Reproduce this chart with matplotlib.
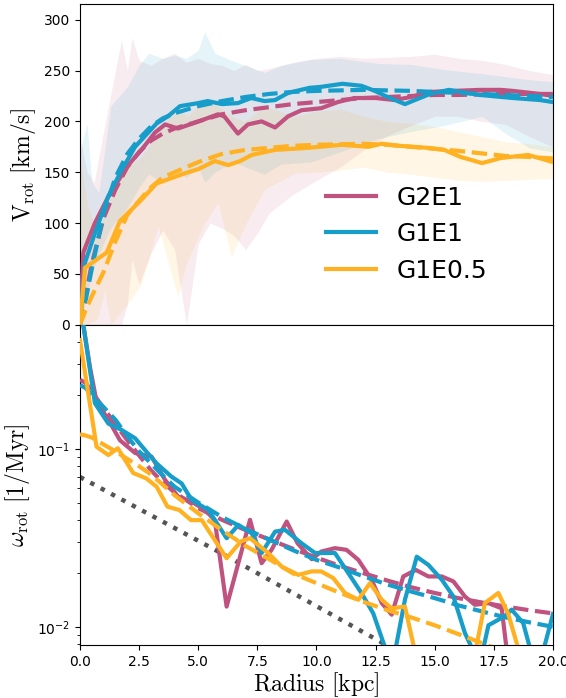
import numpy as np
import matplotlib.pyplot as plt

plt.rcParams['mathtext.fontset'] = 'cm'

names = ['G2E1', 'G1E1', 'G1E0.5']
colors = ['#c0527f', '#179dc9', '#ffb121']

# ---- rotation curves (top panel) ----
r_v_g2e1 = [0, 0.14, 0.63, 1.2, 2.0, 2.6, 3.17, 3.6, 4.14, 4.9, 5.84, 6.1, 6.68, 7.1, 7.68, 8.25, 8.8, 9.37,
            10.2, 10.9, 11.6, 12.5, 13.3, 14.0, 14.8, 15.8, 16.9, 17.8, 18.3, 19.45, 20.0]
v_g2e1 = [0, 71, 100, 126, 156, 172, 189, 197, 193, 199, 207, 205, 188, 197, 200, 194, 205, 211,
          213, 219, 223, 223, 221, 224, 229, 230, 231, 231, 230, 227, 225]

r_v_g1e1 = [0, 0.21, 0.63, 1.19, 1.76, 2.33, 3.24, 3.72, 4.23, 5.0, 5.4, 6.0, 6.68, 7.24, 7.81, 8.25, 8.8,
            9.7, 10.2, 11.1, 11.9, 12.47, 13.0, 13.74, 14.8, 15.6, 16.9, 18.3, 19.45, 20.0]
v_g1e1 = [0, 61, 90, 126, 152, 175, 198, 205, 215, 218, 220, 217, 218, 223, 220, 221, 228,
          233, 234, 237, 235, 230, 224, 217, 227, 231, 226, 223, 221, 219]

r_v_g1e05 = [0, 0.21, 1.13, 1.69, 2.6, 3.24, 3.72, 4.44, 5.0, 5.7, 6.27, 6.77, 7.26, 8.25, 9.65, 11.07,
             12.2, 12.75, 13.5, 14.7, 15.4, 16.1, 17.0, 17.8, 18.95, 20.0]
v_g1e05 = [0, 56, 71, 102, 123, 139, 143, 149, 153, 161, 157, 161, 167, 172, 174, 177,
           175, 178, 176, 174, 172, 165, 159, 164, 167, 160]

# fits (dashed)
r_fit = [0, 0.25, 0.5, 1, 1.5, 2, 2.5, 3, 3.5, 4, 5, 6, 7, 8, 9, 10, 11, 12, 13, 14, 15, 16, 17, 18, 19, 20]
vfit_g2e1 = [0, 30, 60, 105, 133, 155, 170, 181, 188, 193, 200, 207, 211, 214, 217, 219, 221, 223, 224, 225,
             226, 226, 226.5, 227, 227, 227]
vfit_g1e1 = [0, 25, 55, 110, 145, 168, 183, 195, 203, 208, 215, 220, 224, 227, 229, 230, 230.5, 231, 230.5,
             230, 229, 228, 227, 226, 225, 224]
vfit_g1e05 = [0, 15, 28, 52, 82, 108, 122, 135, 145, 150, 160, 168, 172, 174, 176, 177, 177.5, 178, 177,
              175, 173, 171, 168.5, 166, 165, 163.5]

# scatter bands
band_r_g2e1 = [0, 0.3, 0.6, 1, 1.5, 1.75, 2, 2.2, 2.5, 3, 3.5, 4, 4.5, 5, 5.5, 6, 6.5, 7, 7.5, 8, 9, 10, 11,
               12, 13, 14, 15, 16, 17, 18, 19, 20]
band_hi_g2e1 = [185, 150, 140, 190, 250, 280, 250, 282, 260, 255, 262, 267, 258, 262, 257, 255, 250, 256, 250,
                252, 258, 262, 264, 262, 263, 264, 266, 262, 260, 256, 250, 246]
band_lo_g2e1 = [0, 0, 0, 0, 0, 0, 20, 64, 40, 70, 93, 74, 0, 80, 100, 95, 88, 74, 90, 110, 128, 142, 155,
                172, 186, 196, 205, 205, 200, 197, 185, 175]

band_r_g1e1 = [0, 0.3, 0.5, 0.8, 1.3, 2, 2.5, 2.9, 3.5, 4, 4.5, 5, 5.27, 5.7, 6.5, 7, 7.8, 8.5, 9.78, 11,
               12.6, 14, 15.4, 17, 18, 19, 20]
band_hi_g1e1 = [170, 198, 140, 130, 215, 234, 255, 267, 262, 265, 262, 270, 288, 267, 259, 255, 248, 255, 261,
                262, 257, 256, 251, 247, 244, 241, 239]
band_lo_g1e1 = [0, 30, 50, 70, 95, 115, 135, 148, 140, 150, 145, 155, 140, 150, 160, 155, 148, 158, 160, 170,
                183, 190, 196, 205, 188, 174, 170]

band_r_g1e05 = [0, 0.3, 0.7, 0.8, 1.04, 1.3, 2, 2.6, 3.3, 4.14, 4.5, 5.27, 5.84, 6.4, 6.96, 7.8, 9.08, 10, 11,
                12, 13, 14, 15, 16, 17, 18, 19, 20]
band_hi_g1e05 = [165, 120, 90, 95, 110, 140, 155, 165, 190, 215, 205, 220, 215, 205, 200, 215, 205, 210, 212,
                 205, 200, 198, 195, 190, 185, 180, 178, 175]
band_lo_g1e05 = [0, 0, 5, 10, 34, 0, 20, 40, 97, 28, 60, 100, 120, 67, 97, 133, 149, 150, 152,
                 155, 150, 148, 145, 142, 141, 142, 143, 144]

# ---- angular velocity (bottom panel) ----
r_w_g2e1 = [0.05, 0.42, 0.7, 1.2, 1.69, 2.33, 3.03, 3.6, 4.15, 4.72, 5.29, 5.7, 6.2, 7.19, 7.68, 8.1, 8.74,
            9.2, 9.8, 10.2, 10.78, 11.27, 11.77, 12.33, 12.76, 13.18, 13.67, 14.2, 14.73, 15.3, 15.79, 16.28,
            16.7, 17.27, 17.83, 18.2, 20.0]
w_g2e1 = [0.6, 0.29, 0.185, 0.146, 0.112, 0.095, 0.0905, 0.067, 0.054, 0.0506, 0.0454, 0.0398, 0.013, 0.040,
          0.0228, 0.0271, 0.0391, 0.0295, 0.024, 0.0265, 0.0277, 0.0271, 0.0238, 0.0184, 0.0136, 0.0117,
          0.0192, 0.0209, 0.0192, 0.0192, 0.018, 0.0148, 0.0133, 0.0136, 0.0127, 0.005, 0.005]

r_w_g1e1 = [0.05, 0.63, 1.2, 1.76, 2.33, 2.75, 3.24, 3.87, 4.3, 4.72, 5.43, 6.2, 6.7, 7.26, 7.68, 8.25,
            8.67, 9.37, 9.94, 10.78, 11.35, 11.9, 12.4, 13.0, 13.3, 13.74, 14.24, 14.73, 15.3, 15.79, 16.28,
            16.7, 17.0, 17.27, 17.97, 18.25, 18.74, 19.1, 19.55, 20.0]
w_g1e1 = [0.6, 0.181, 0.139, 0.128, 0.115, 0.0987, 0.083, 0.0699, 0.064, 0.0517, 0.0454, 0.0315, 0.0374,
          0.0336, 0.026, 0.0343, 0.0351, 0.0295, 0.026, 0.026, 0.020, 0.0155, 0.0119, 0.007, 0.007, 0.0142,
          0.0248, 0.0223, 0.0184, 0.0148, 0.0092, 0.007, 0.007, 0.0102, 0.0115, 0.0125, 0.0105, 0.007,
          0.007, 0.0118]

r_w_g1e05 = [0.0, 0.7, 1.2, 1.6, 2.25, 2.8, 3.24, 3.7, 4.2, 4.7, 5.15, 6.2, 6.8, 7.19, 7.96, 8.53, 9.23,
             9.8, 10.2, 10.71, 11.2, 11.77, 12.26, 12.76, 13.18, 13.74, 14.3, 16.6, 17.12, 17.69, 18.1,
             18.75, 20.0]
w_g1e05 = [0.41, 0.103, 0.0925, 0.101, 0.0733, 0.0684, 0.0614, 0.0474, 0.0454, 0.0398, 0.0398, 0.0243,
           0.0302, 0.0315, 0.026, 0.0218, 0.0196, 0.0205, 0.0205, 0.0188, 0.0155, 0.0142, 0.0176, 0.0142,
           0.0127, 0.013, 0.006, 0.006, 0.0136, 0.0155, 0.0119, 0.006, 0.006]

wfit_g2e1 = [0.245, 0.235, 0.21, 0.17, 0.138, 0.112, 0.092, 0.076, 0.065, 0.057, 0.0465, 0.040, 0.035,
             0.031, 0.0275, 0.0245, 0.022, 0.020, 0.0182, 0.0167, 0.0155, 0.0145, 0.0137, 0.013, 0.0124, 0.0119]
wfit_g1e1 = [0.229, 0.22, 0.2, 0.172, 0.146, 0.118, 0.097, 0.083, 0.071, 0.0614, 0.050, 0.0415, 0.0355,
             0.031, 0.027, 0.0238, 0.0215, 0.0192, 0.0173, 0.0158, 0.0145, 0.0132, 0.0122, 0.0113, 0.0106, 0.0100]
wfit_g1e05 = [0.121, 0.119, 0.116, 0.106, 0.097, 0.088, 0.08, 0.072, 0.063, 0.055, 0.0435, 0.035, 0.0285,
              0.024, 0.020, 0.0176, 0.0155, 0.0138, 0.0124, 0.0113, 0.0102, 0.0091, 0.0081, 0.0072, 0.0065, 0.0058]

r_dot = [0, 6.2, 13.5]
w_dot = [0.0696, 0.025, 0.0072]

fig, (ax1, ax2) = plt.subplots(2, 1, sharex=True, figsize=(5.66, 6.98))
plt.subplots_adjust(left=0.1413, right=0.977, top=0.9936, bottom=0.0759, hspace=0)

lw = 3
bands = [(band_r_g2e1, band_lo_g2e1, band_hi_g2e1),
         (band_r_g1e1, band_lo_g1e1, band_hi_g1e1),
         (band_r_g1e05, band_lo_g1e05, band_hi_g1e05)]
curves = [(r_v_g2e1, v_g2e1), (r_v_g1e1, v_g1e1), (r_v_g1e05, v_g1e05)]
fits = [vfit_g2e1, vfit_g1e1, vfit_g1e05]
wcurves = [(r_w_g2e1, w_g2e1), (r_w_g1e1, w_g1e1), (r_w_g1e05, w_g1e05)]
wfits = [wfit_g2e1, wfit_g1e1, wfit_g1e05]

for (br, lo, hi), c in zip(bands, colors):
    ax1.fill_between(br, lo, hi, color=c, alpha=0.11, lw=0, zorder=1)

for (rr, vv), vf, c, n in zip(curves, fits, colors, names):
    ax1.plot(rr, vv, color=c, lw=lw, label=n, zorder=3)
    ax1.plot(r_fit, vf, color=c, lw=lw, ls='--', zorder=3)

for (rr, ww), wf, c in zip(wcurves, wfits, colors):
    ax2.plot(rr, ww, color=c, lw=lw, zorder=3)
    ax2.plot(r_fit, wf, color=c, lw=lw, ls='--', zorder=3)
ax2.plot(r_dot, w_dot, color='#555555', ls=':', lw=3.2, zorder=2)

ax1.set_ylim(0, 315)
ax1.set_yticks([0, 50, 100, 150, 200, 250, 300])
ax1.set_ylabel(r'$\mathrm{V_{rot}}\ \mathrm{[km/s]}$', fontsize=17)
ax1.legend(fontsize=18, frameon=False, loc='lower left', bbox_to_anchor=(0.50, 0.1), borderaxespad=0)

ax2.set_yscale('log')
ax2.set_ylim(0.0079, 0.5)
ax2.set_xlim(0, 20)
ax2.set_ylabel(r'$\omega_{\rm rot}\ [1/\mathrm{Myr}]$', fontsize=17)
ax2.set_xlabel(r'$\mathrm{Radius\ [kpc]}$', fontsize=17, labelpad=1)

fig.savefig('out.png', dpi=100)
